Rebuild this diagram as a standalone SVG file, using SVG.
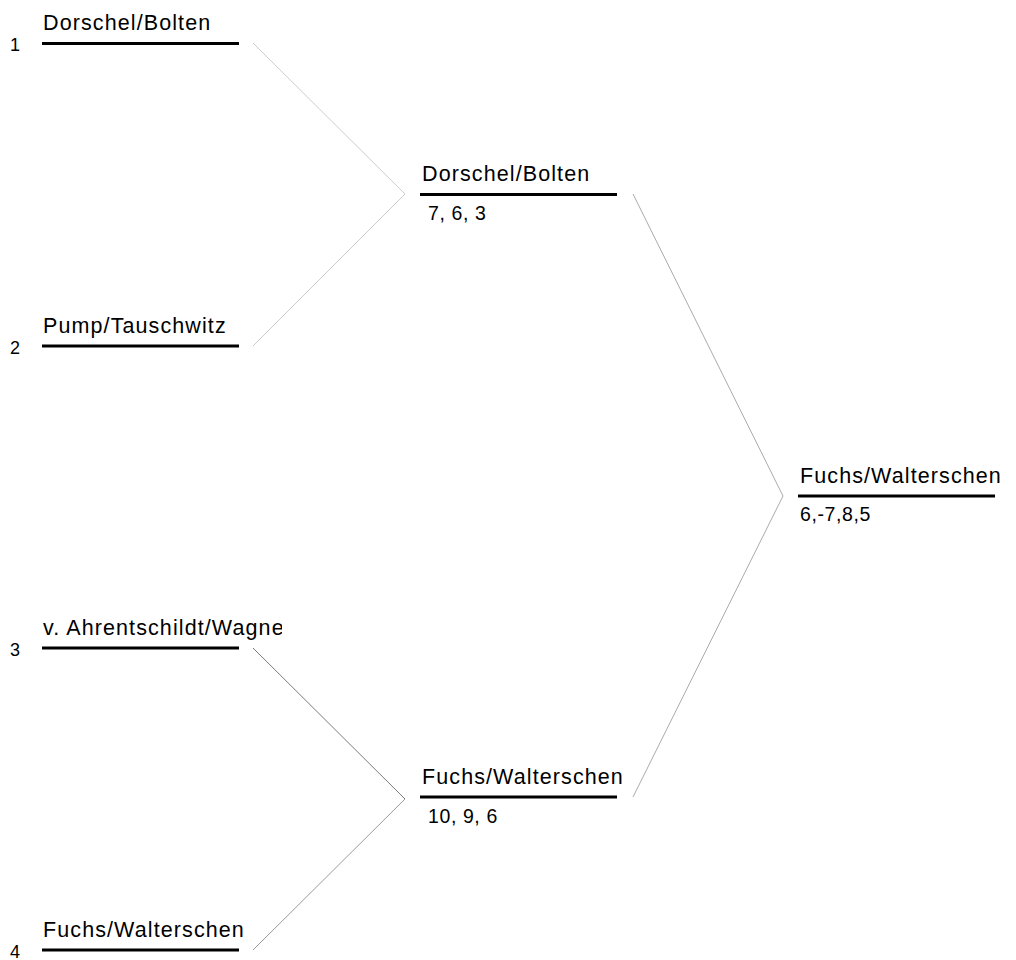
<svg xmlns="http://www.w3.org/2000/svg" width="1016" height="960" viewBox="0 0 1016 960">
<style>
.name{font-family:"Liberation Sans",Arial,sans-serif;font-size:21.5px;letter-spacing:1.1px;fill:#000}
.score{font-family:"Liberation Sans",Arial,sans-serif;font-size:19.5px;letter-spacing:0.6px;fill:#000}
.num{font-family:"Liberation Sans",Arial,sans-serif;font-size:18px;fill:#000}
.bar{stroke:#000;stroke-width:3}
.conn{fill:none;stroke-width:1}
</style>
<defs>
<clipPath id="c1"><rect x="0" y="0" width="282" height="960"/></clipPath>
</defs>
<rect width="1016" height="960" fill="#fff"/>
<g id="connectors">
<polyline class="conn" stroke="#cccccc" points="253,43 405,194 253,346"/>
<polyline class="conn" stroke="#7a7a7a" points="253,648 405,799"/>
<polyline class="conn" stroke="#9a9a9a" points="405,799 253,950"/>
<polyline class="conn" stroke="#aaaaaa" points="633,194 783,496 633,797"/>
</g>
<g id="r1-1" clip-path="url(#c1)">
<text class="num" x="10" y="51">1</text>
<text class="name" x="43" y="30">Dorschel/Bolten</text>
<line class="bar" x1="42" y1="43.5" x2="239" y2="43.5"/>
</g>
<g id="r1-2" clip-path="url(#c1)">
<text class="num" x="10" y="354">2</text>
<text class="name" x="43" y="333">Pump/Tauschwitz</text>
<line class="bar" x1="42" y1="346" x2="239" y2="346"/>
</g>
<g id="r1-3" clip-path="url(#c1)">
<text class="num" x="10" y="656">3</text>
<text class="name" x="43" y="635">v. Ahrentschildt/Wagner</text>
<line class="bar" x1="42" y1="648" x2="239" y2="648"/>
</g>
<g id="r1-4" clip-path="url(#c1)">
<text class="num" x="10" y="958">4</text>
<text class="name" x="43" y="937">Fuchs/Walterschen</text>
<line class="bar" x1="42" y1="950" x2="239" y2="950"/>
</g>
<g id="r2-1">
<text class="name" x="422" y="181">Dorschel/Bolten</text>
<line class="bar" x1="420" y1="194.5" x2="617" y2="194.5"/>
<text class="score" x="428" y="220">7, 6, 3</text>
</g>
<g id="r2-2">
<text class="name" x="422" y="784">Fuchs/Walterschen</text>
<line class="bar" x1="420" y1="797" x2="617" y2="797"/>
<text class="score" x="428" y="823">10, 9, 6</text>
</g>
<g id="r3-1">
<text class="name" x="800" y="483">Fuchs/Walterschen</text>
<line class="bar" x1="798" y1="496" x2="995" y2="496"/>
<text class="score" x="800" y="521">6,-7,8,5</text>
</g>
</svg>
